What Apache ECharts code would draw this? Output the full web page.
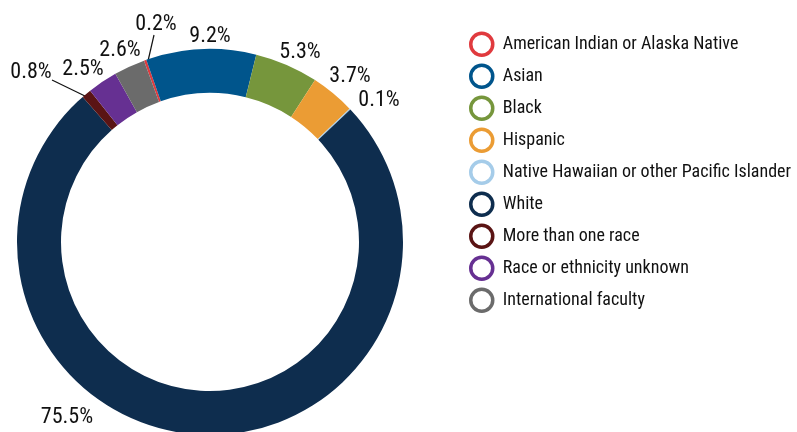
<!DOCTYPE html>
<html>
<head>
<meta charset="utf-8">
<script src="https://cdn.jsdelivr.net/npm/echarts@6/dist/echarts.min.js"></script>
<style>
html,body{margin:0;padding:0;background:#fff;}
#c{width:797px;height:432px;}
</style>
</head>
<body>
<div id="c"></div>
<script>
const categories = ["American Indian or Alaska Native","Asian","Black","Hispanic","Native Hawaiian or other Pacific Islander","White","More than one race","Race or ethnicity unknown","International faculty"];
const values = [0.2, 9.2, 5.3, 3.7, 0.1, 75.5, 0.8, 2.5, 2.6];
const colors = ["#e03a3e","#00558c","#76963c","#eb9c34","#a5cce9","#0e2d4e","#5a1414","#663092","#6b6b6b"];
const FONT = "'Roboto Condensed','DejaVu Sans Condensed',sans-serif";

// label anchor placement (annotation layout, not data)
const labelPos = [[156,24],[210,36],[300,52],[350,76],[379,100],[67,417],[31,72],[83,69],[120,50]];
const linePts = {0:[[154,35],[148,61]], 6:[[52,80],[87,97]]};

const chart = echarts.init(document.getElementById('c'), null, {renderer:'canvas'});
chart.setOption({
  animation:false,
  legend:{
    orient:'vertical', left:469, top:31.5, padding:0,
    itemWidth:22, itemHeight:22, itemGap:6.5,
    icon:'circle',
    textStyle:{fontFamily:FONT, fontSize:18, lineHeight:22, color:'#111', padding:[0,0,0,5]},
    data:categories.map((n,i)=>({name:n, icon:'circle',
      itemStyle:{color:'#fff', borderColor:colors[i], borderWidth:3.5}}))
  },
  series:[{
    type:'pie',
    center:[210,242],
    radius:[149,193],
    startAngle:110,
    clockwise:true,
    avoidLabelOverlap:false,
    label:{show:true, position:'outside', fontFamily:FONT, fontSize:22, color:'#111',
      formatter:p=>p.value.toFixed(1)+'%'},
    labelLine:{show:false, length:4, length2:0, lineStyle:{color:'#111', width:1.2}},
    labelLayout:function(p){
      const i=p.dataIndex;
      const o={x:labelPos[i][0], y:labelPos[i][1], align:'center', verticalAlign:'middle'};
      if(linePts[i]) o.labelLinePoints=linePts[i];
      return o;
    },
    data:categories.map((n,i)=>({name:n, value:values[i], itemStyle:{color:colors[i]},
      labelLine:{show:!!linePts[i]}}))
  }]
});
</script>
</body>
</html>
